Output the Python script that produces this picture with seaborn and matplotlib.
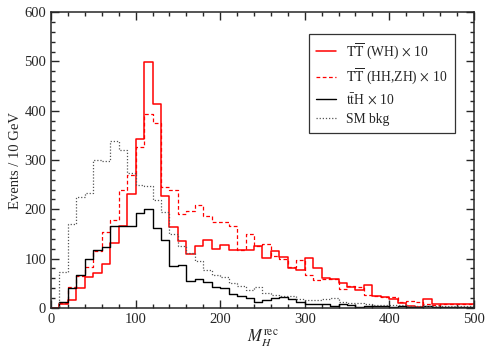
import numpy as np
import pandas as pd
import seaborn as sns
import matplotlib.pyplot as plt
from matplotlib.lines import Line2D
from matplotlib.ticker import MultipleLocator

# bin centres 5..495 GeV, 10 GeV wide
centers = np.arange(5, 500, 10)

wh = [0, 8, 15, 41, 63, 70, 89, 132, 167, 231,
      342, 499, 413, 226, 164, 136, 110, 125, 137, 120,
      128, 118, 118, 117, 126, 101, 115, 103, 80, 76,
      101, 80, 61, 59, 50, 42, 36, 47, 24, 22,
      17, 9, 3, 2, 17, 8, 7, 7, 7, 7]
hhzh = [0, 10, 42, 64, 83, 116, 153, 178, 240, 269,
        326, 393, 376, 245, 240, 191, 197, 208, 186, 174,
        174, 166, 118, 149, 126, 130, 105, 100, 83, 97,
        66, 56, 59, 59, 39, 44, 42, 27, 24, 22,
        21, 12, 14, 12, 7, 6, 8, 8, 8, 8]
tth = [0, 12, 41, 67, 100, 118, 124, 167, 167, 167,
       193, 200, 161, 137, 84, 86, 55, 59, 52, 43,
       40, 29, 23, 20, 12, 15, 19, 21, 17, 12,
       7, 8, 7, 3, 8, 5, 2, 4, 3, 3,
       2, 3, 2, 2, 3, 2, 2, 2, 2, 2]
smbkg = [0, 72, 170, 224, 233, 300, 297, 338, 320, 274,
         250, 247, 218, 195, 150, 126, 111, 95, 77, 67,
         62, 50, 44, 36, 42, 31, 27, 25, 23, 17,
         16, 15, 17, 19, 12, 10, 10, 8, 6, 5,
         5, 5, 4, 4, 4, 3, 3, 3, 3, 3]

labels = [r"$\mathrm{T\overline{T}}$ (WH)$\,\times\,$10",
          r"$\mathrm{T\overline{T}}$ (HH,ZH)$\,\times\,$10",
          r"$\mathrm{t\bar{t}}$H$\,\times\,$10",
          "SM bkg"]

sns.set_style("ticks")
plt.rcParams['font.family'] = ['Liberation Serif', 'DejaVu Serif']
plt.rcParams['mathtext.fontset'] = 'stix'

fig, ax = plt.subplots(figsize=(4.86, 3.49), dpi=100)
fig.subplots_adjust(left=0.105, right=0.975, bottom=0.118, top=0.965)

series = [(wh, "red", "-", 1.1), (hhzh, "red", (0, (3, 2)), 0.9),
          (tth, "black", "-", 1.0), (smbkg, "#555555", (0, (1, 1.5)), 0.9)]

handles = []
for vals, col, ls, lw in series:
    df = pd.DataFrame({"mass": centers, "events": vals})
    sns.histplot(data=df, x="mass", weights="events", binwidth=10, binrange=(0, 500),
                 element="step", fill=False, color=col, linestyle=ls,
                 linewidth=lw, ax=ax)
    handles.append(Line2D([], [], color=col, linestyle=ls, linewidth=lw))

ax.set_xlim(0, 500)
ax.set_ylim(0, 600)
ax.xaxis.set_major_locator(MultipleLocator(100))
ax.xaxis.set_minor_locator(MultipleLocator(20))
ax.yaxis.set_major_locator(MultipleLocator(100))
ax.yaxis.set_minor_locator(MultipleLocator(20))
ax.tick_params(which="both", direction="in", top=True, right=True,
               labelsize=10.5, width=1)
ax.tick_params(which="major", length=6)
ax.tick_params(which="minor", length=3)
for sp in ax.spines.values():
    sp.set_linewidth(1.1)

ax.set_ylabel("Events / 10 GeV", fontsize=10.5, labelpad=2)
ax.set_xlabel(r"$M_H^{\mathrm{rec}}$", fontsize=12, labelpad=1)

leg = ax.legend(handles, labels, loc="upper right", bbox_to_anchor=(0.955, 0.926),
                borderaxespad=0, fontsize=9.8, frameon=True, fancybox=False,
                edgecolor="black", handlelength=1.5, handletextpad=0.7,
                borderpad=0.55, labelspacing=0.4)
leg.get_frame().set_linewidth(0.9)

fig.savefig("out.png", dpi=100)
